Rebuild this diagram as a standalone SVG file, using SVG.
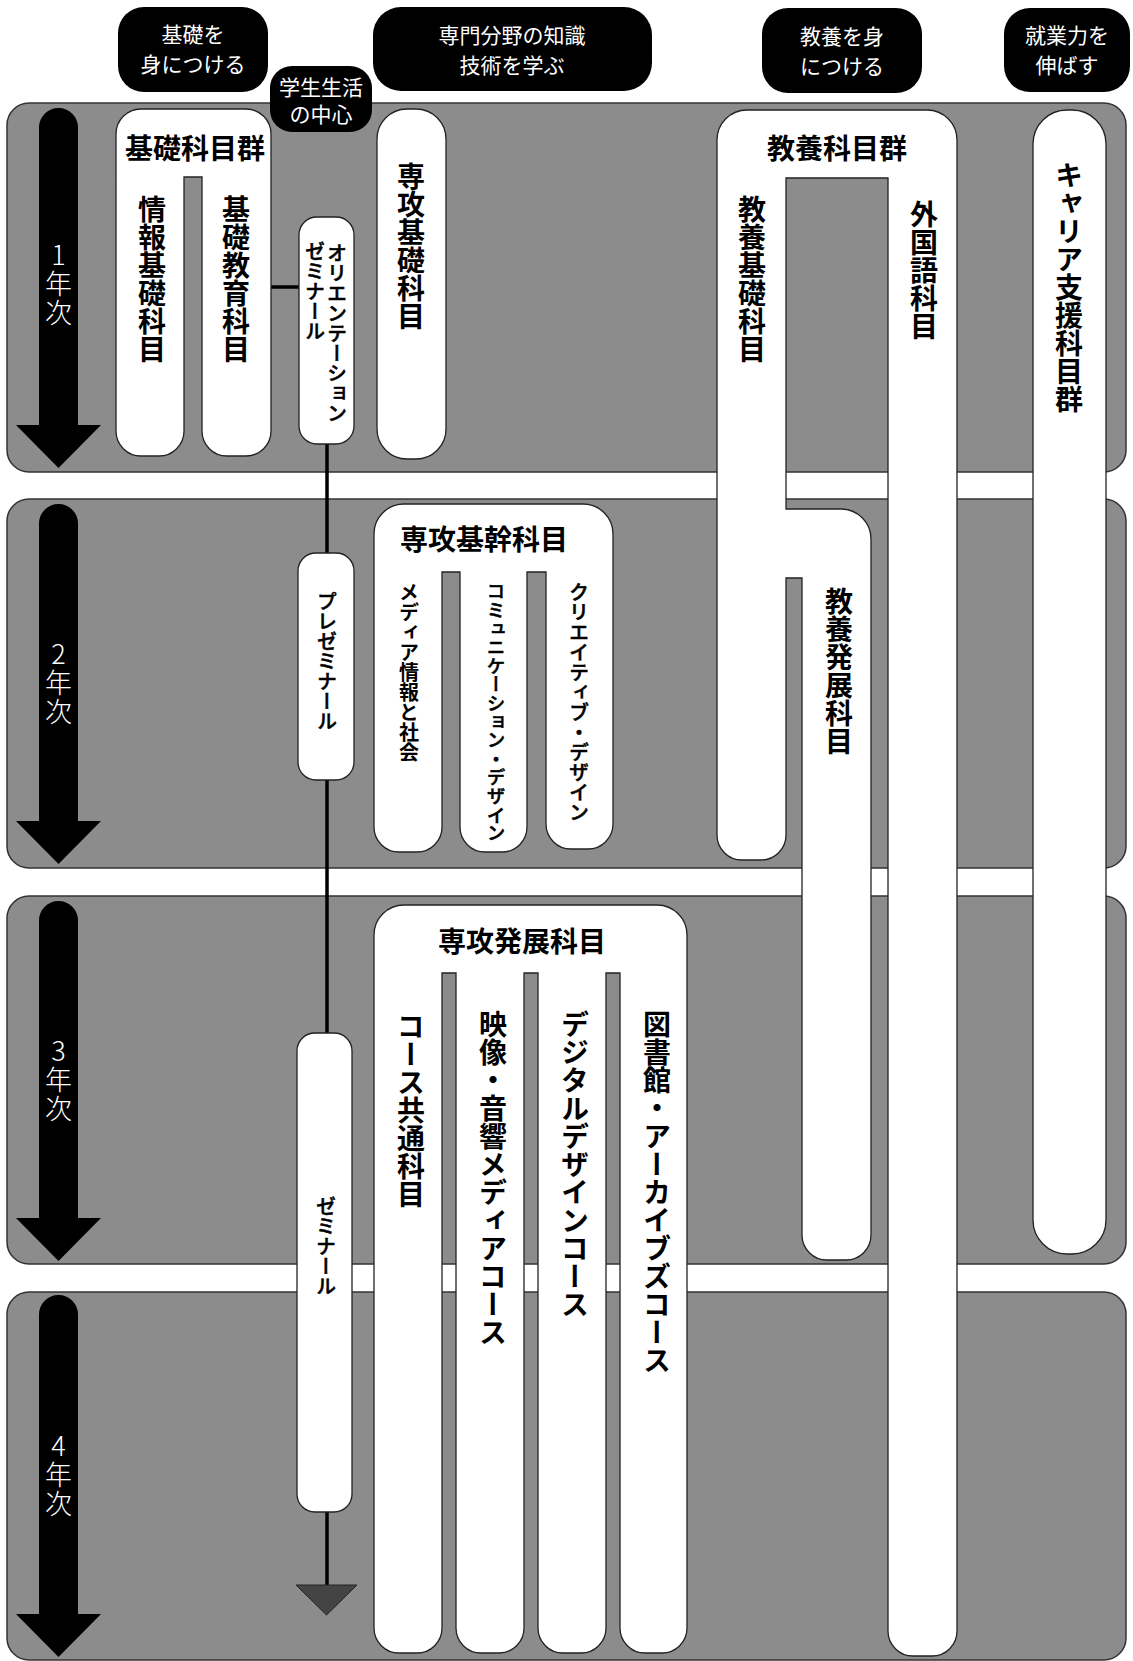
<svg xmlns="http://www.w3.org/2000/svg" width="1133" height="1661" viewBox="0 0 1133 1661">
<style>
.band{fill:#8c8c8c;stroke:#333;stroke-width:1.5}
.yr{fill:#000}
.yt{fill:#fff;font-family:"Noto Sans CJK JP Light","Noto Sans CJK JP",sans-serif;font-weight:300;font-size:27px;writing-mode:vertical-rl;text-orientation:upright;letter-spacing:2px}
.tag{fill:#000}
.tt{fill:#fff;font-family:"Noto Sans CJK JP",sans-serif;font-size:21px;text-anchor:middle;dominant-baseline:central}
.node{fill:#fff;stroke:#222;stroke-width:1.3}
.h{font-family:"Noto Sans CJK JP",sans-serif;font-weight:bold;font-size:28px;text-anchor:middle;dominant-baseline:central;fill:#000}
.v{font-family:"Noto Sans CJK JP",sans-serif;writing-mode:vertical-rl;fill:#000}
.vb{font-size:28px;font-weight:bold}
.vs{font-size:20px}
.vm{font-family:"Noto Sans CJK JP Medium","Noto Sans CJK JP",sans-serif;font-weight:500;stroke:#000;stroke-width:0.5}
.conn{stroke:#000;stroke-width:3.5;fill:none}
</style>
<g id="bands">
<rect class="band" x="7" y="103" width="1119" height="369" rx="22"/>
<rect class="band" x="7" y="499" width="1119" height="369" rx="22"/>
<rect class="band" x="7" y="896" width="1119" height="368" rx="22"/>
<rect class="band" x="7" y="1292" width="1119" height="368" rx="22"/>
</g>
<g id="years">
<path class="yr" d="M39,127.5 A19.5,19.5 0 0 1 78,127.5 V425 H101 L58.5,468 L16,425 H39 Z"/>
<text class="yt" x="58.5" y="241">1年次</text>
<path class="yr" d="M39,523.5 A19.5,19.5 0 0 1 78,523.5 V821 H101 L58.5,864 L16,821 H39 Z"/>
<text class="yt" x="58.5" y="640">2年次</text>
<path class="yr" d="M39,920.5 A19.5,19.5 0 0 1 78,920.5 V1218 H101 L58.5,1261 L16,1218 H39 Z"/>
<text class="yt" x="58.5" y="1037">3年次</text>
<path class="yr" d="M39,1314.5 A19.5,19.5 0 0 1 78,1314.5 V1614 H101 L58.5,1657 L16,1614 H39 Z"/>
<text class="yt" x="58.5" y="1432">4年次</text>
</g>
<g id="connectors">
<line class="conn" x1="271" y1="287" x2="299" y2="287"/>
<line class="conn" x1="327" y1="444" x2="327" y2="553"/>
<line class="conn" x1="327" y1="780" x2="327" y2="1033"/>
<line class="conn" x1="327" y1="1512" x2="327" y2="1586"/>
<polygon points="296,1585 357,1585 326.5,1615" fill="#444" stroke="#222" stroke-width="1"/>
</g>
<g id="kiso-group">
<path class="node" d="M116,134 A25,25 0 0 1 141,109 H246 A25,25 0 0 1 271,134 V431 A25,25 0 0 1 246,456 H227 A25,25 0 0 1 202,431 V177 H184 V431 A25,25 0 0 1 159,456 H141 A25,25 0 0 1 116,431 Z"/>
<text class="h" x="195" y="147">基礎科目群</text>
<text class="v vb" x="152" y="195">情報基礎科目</text>
<text class="v vb" x="236" y="195">基礎教育科目</text>
</g>
<g id="orientation-seminar">
<rect class="node" x="299" y="217" width="55" height="227" rx="18"/>
<text class="v vs vm" x="337" y="243">オリエンテーション</text>
<text class="v vs vm" x="315" y="241">ゼミナール</text>
</g>
<g id="pre-seminar">
<rect class="node" x="298" y="553" width="56" height="227" rx="18"/>
<text class="v vs vm" x="327" y="591">プレゼミナール</text>
</g>
<g id="seminar">
<rect class="node" x="297" y="1033" width="55" height="479" rx="18"/>
<text class="v vs vm" x="326" y="1196">ゼミナール</text>
</g>
<g id="senko-kiso">
<rect class="node" x="377" y="109" width="69" height="350" rx="30"/>
<text class="v vb" x="411" y="162">専攻基礎科目</text>
</g>
<g id="senko-kikan">
<path class="node" d="M374,534 A30,30 0 0 1 404,504 H583 A30,30 0 0 1 613,534 V824 A25,25 0 0 1 588,849 H571 A25,25 0 0 1 546,824 V572 H527 V827 A25,25 0 0 1 502,852 H485 A25,25 0 0 1 460,827 V572 H442 V827 A25,25 0 0 1 417,852 H399 A25,25 0 0 1 374,827 Z"/>
<text class="h" x="484" y="538">専攻基幹科目</text>
<text class="v vs" x="409" y="582" font-weight="bold">メディア情報と社会</text>
<text class="v vm" x="496" y="582" font-size="18.6">コミュニケーション・デザイン</text>
<text class="v vs vm" x="579" y="582">クリエイティブ・デザイン</text>
</g>
<g id="senko-hatten">
<path class="node" d="M374,935 A30,30 0 0 1 404,905 H657 A30,30 0 0 1 687,935 V1628 A25,25 0 0 1 662,1653 H645 A25,25 0 0 1 620,1628 V973 H606 V1628 A25,25 0 0 1 581,1653 H563 A25,25 0 0 1 538,1628 V973 H524 V1628 A25,25 0 0 1 499,1653 H481 A25,25 0 0 1 456,1628 V973 H442 V1628 A25,25 0 0 1 417,1653 H399 A25,25 0 0 1 374,1628 Z"/>
<text class="h" x="522" y="940">専攻発展科目</text>
<text class="v vb" x="411" y="1012">コース共通科目</text>
<text class="v vb" x="493" y="1010">映像・音響メディアコース</text>
<text class="v vb" x="575" y="1010">デジタルデザインコース</text>
<text class="v vb" x="657" y="1010">図書館・アーカイブズコース</text>
</g>
<g id="kyoyo-group">
<path class="node" d="M717,140 A30,30 0 0 1 747,110 H927 A30,30 0 0 1 957,140 V1631 A25,25 0 0 1 932,1656 H913 A25,25 0 0 1 888,1631 V178 H786 V509 H841 A30,30 0 0 1 871,539 V1235 A25,25 0 0 1 846,1260 H827 A25,25 0 0 1 802,1235 V578 H786 V835 A25,25 0 0 1 761,860 H742 A25,25 0 0 1 717,835 Z"/>
<text class="h" x="837" y="147">教養科目群</text>
<text class="v vb" x="752" y="195">教養基礎科目</text>
<text class="v vb" x="924" y="200">外国語科目</text>
<text class="v vb" x="839" y="587">教養発展科目</text>
</g>
<g id="career">
<rect class="node" x="1033" y="110" width="73" height="1144" rx="34"/>
<text class="v vb" x="1069" y="161">キャリア支援科目群</text>
</g>
<g id="tag-kiso">
<rect class="tag" x="118" y="7" width="150" height="85" rx="26"/>
<text class="tt" x="193"><tspan x="193" y="33">基礎を</tspan><tspan x="193" y="63">身につける</tspan></text>
</g>
<g id="tag-gakusei">
<rect class="tag" x="270" y="66" width="102" height="66" rx="22"/>
<text class="tt" x="321" font-size="16.5"><tspan x="321" y="86">学生生活</tspan><tspan x="321" y="113">の中心</tspan></text>
</g>
<g id="tag-senmon">
<rect class="tag" x="373" y="7" width="279" height="84" rx="28"/>
<text class="tt" x="512"><tspan x="512" y="34">専門分野の知識</tspan><tspan x="512" y="64">技術を学ぶ</tspan></text>
</g>
<g id="tag-kyoyo">
<rect class="tag" x="762" y="8" width="160" height="85" rx="26"/>
<text class="tt" x="842"><tspan x="842" y="35">教養を身</tspan><tspan x="842" y="65">につける</tspan></text>
</g>
<g id="tag-shugyo">
<rect class="tag" x="1004" y="8" width="126" height="84" rx="26"/>
<text class="tt" x="1067"><tspan x="1067" y="34">就業力を</tspan><tspan x="1067" y="64">伸ばす</tspan></text>
</g>
</svg>
